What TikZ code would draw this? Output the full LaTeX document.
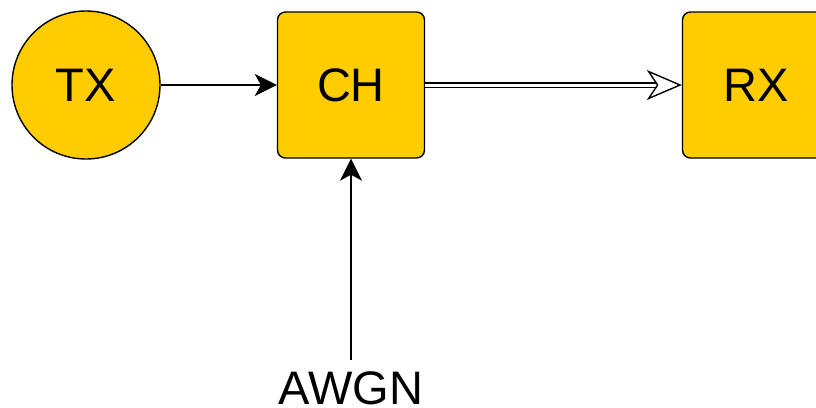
\documentclass[tikz,border=0pt]{standalone}
\usepackage{fontspec}
\setmainfont{Liberation Sans}
\usetikzlibrary{arrows.meta, positioning}
\definecolor{blockyellow}{HTML}{FFCC00}
\tikzset{>=Stealth}

\begin{document}
\begin{tikzpicture}[x=1pt, y=-1pt,
	block/.style={draw, fill=blockyellow, line width=1.4pt, rounded corners=8pt, minimum width=147pt, minimum height=146pt, font=\fontsize{47}{56}\selectfont},
	src/.style={draw, fill=blockyellow, line width=1.4pt, circle, minimum size=148pt, font=\fontsize{47}{56}\selectfont},
	conn/.style={line width=1.8pt, -{Stealth[length=22pt, width=22pt, inset=6pt]}}]
	\useasboundingbox (0,0) rectangle (816,407);

	\node[src](tx) at (86,85){TX};
	\node[block](ch) at (351,85){CH};
	\node[block](rx) at (756,85){RX};
	\node[anchor=base, inner sep=0pt, font=\fontsize{47}{56}\selectfont](awgn) at (351,404){AWGN};

	\draw[conn](tx)--(ch);
	\draw[conn, shorten <=11pt](awgn.north)--(ch.south);
	\draw[line width=1.4pt, double, double distance=3pt, -{Stealth[open, length=35pt, width=30pt, inset=10pt]}](ch)--(rx);

\end{tikzpicture}
\end{document}
